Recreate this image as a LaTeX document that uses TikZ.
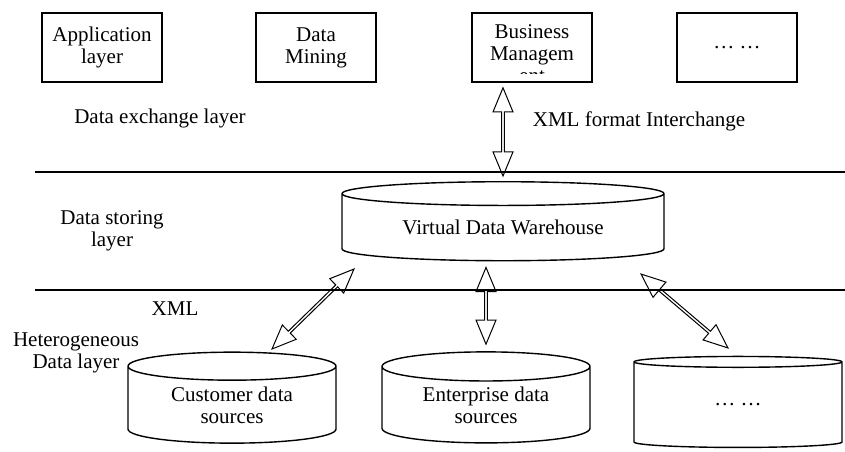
\documentclass[tikz,border=0pt]{standalone}
\usepackage{fontspec}
\setmainfont{Liberation Serif}
\usetikzlibrary{shapes.geometric,shapes.arrows,calc}

\newcommand{\dblarrow}[3]{\path let \p1=($(#2)-(#1)$), \n1={atan2(\y1,\x1)}, \n2={veclen(\x1,\y1)} in node[dbl, minimum height=\n2, rotate=\n1] (#3) at ($(#1)!0.5!(#2)$) {};}

\begin{document}
\begin{tikzpicture}[x=0.5pt, y=-0.5pt, font=\fontsize{10.5}{11}\selectfont,
  appbox/.style={draw, line width=0.8pt, minimum width=60pt, minimum height=34.5pt, inner sep=0pt, align=center},
  store/.style={draw, line width=0.7pt, cylinder, shape border rotate=90, inner sep=0pt, align=center},
  dbl/.style={draw, line width=0.5pt, double arrow, double arrow head extend=1.6pt, double arrow tip angle=45, minimum width=10pt, inner sep=0pt},
  layer/.style={align=center}]
\useasboundingbox (0,0) rectangle (845,451);

\node[appbox] (app) at (102,47.5) {Application\\layer};
\node[appbox] (mining) at (316,47.5) {Data\\Mining};
\node[appbox] (biz) at (532,47.5) {};
\begin{scope}
\clip (biz.north west) rectangle ($(biz.south east)+(0,-9)$);
\node[layer, anchor=north] (biztext) at ($(biz.north)+(0,5)$) {Business\\Managem\\ent};
\end{scope}
\node[appbox] (more) at (737,47.5) {\dots\ \dots};

\node (exch) at (160,118) {Data exchange layer};
\node (xmlfmt) at (639,121) {XML format Interchange};
\draw[line width=0.8pt] (35,172) -- (845,172);
\node[layer] (storing) at (112,231) {Data storing\\layer};
\node[store, minimum width=161pt, minimum height=39.5pt, aspect=0.118] (vdw) at (503,227.5) {Virtual Data Warehouse};
\draw[line width=0.8pt] (35,290) -- (845,290);
\node (xml) at (175,309) {XML};
\node[layer] (hetero) at (76,353) {Heterogeneous\\Data layer};

\node[store, minimum width=104pt, minimum height=45.5pt, aspect=0.23] (cust) at (232,405) {Customer data\\sources};
\node[store, minimum width=104pt, minimum height=45.5pt, aspect=0.23] (ent) at (486,405) {Enterprise data\\sources};
\node[store, minimum width=104pt, minimum height=45.5pt, aspect=0.23] (other) at (738,405) {\dots\ \dots};

\coordinate (t1) at ($(vdw.north |- biz.south)+(0,5)$);
\coordinate (t2) at ($(vdw.north)+(0,-5)$);
\coordinate (m1) at ($(ent.north |- vdw.south)+(0,6)$);
\coordinate (m2) at ($(ent.north)+(0,-7)$);
\coordinate (l1) at (354,269);
\coordinate (l2) at (272,349);
\coordinate (r1) at (641,274);
\coordinate (r2) at (728,348);
\dblarrow{t1}{t2}{xchg}
\dblarrow{m1}{m2}{entlink}
\dblarrow{l1}{l2}{custlink}
\dblarrow{r1}{r2}{otherlink}
\end{tikzpicture}
\end{document}
